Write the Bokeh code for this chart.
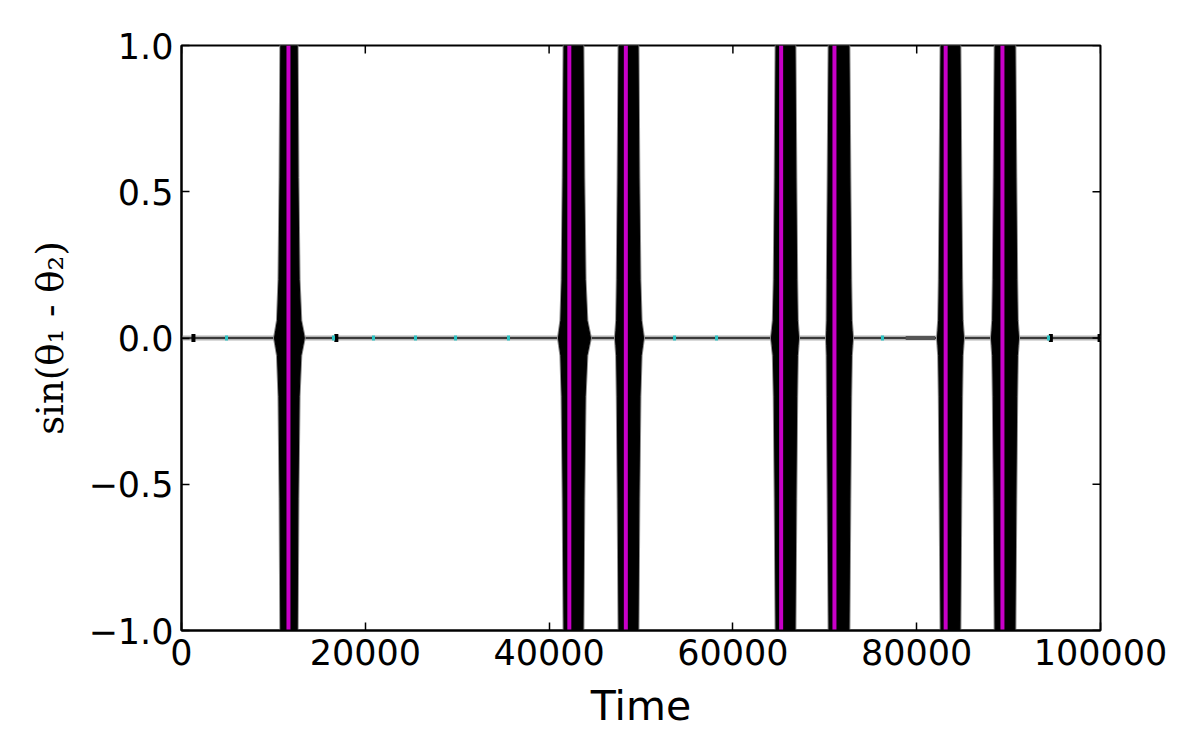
from bokeh.plotting import figure
from bokeh.models import FixedTicker, Range1d, BasicTickFormatter, CustomJSTickFormatter
from bokeh.embed import file_html
from bokeh.resources import INLINE

# ---- data (time units) ----
quiet_t = [0, 100000]
quiet_y = [0.0, 0.0]
dark_t = [78800, 82000]
dark_y = [0.0, 0.0]

burst_bulge_start = [10120, 41020, 47220, 64200, 70190, 82260, 88140]
burst_core_start = [10660, 41460, 47440, 64530, 70290, 82480, 88360]
burst_core_end = [12730, 43850, 49840, 66920, 72800, 84870, 90860]
burst_bulge_end = [13360, 44500, 50270, 67140, 73020, 85090, 91080]
burst_amp = [1.0, 1.0, 1.0, 1.0, 1.0, 1.0, 1.0]

magenta_t = [11640, 42200, 48350, 65250, 71050, 83150, 89330]
cyan_t = [4900, 16540, 20890, 25460, 29820, 35580, 53650, 58220, 76280, 94340]
spike_t = [1300, 16850, 94600, 99900]

x_ticks = [0, 20000, 40000, 60000, 80000, 100000]
y_ticks = [-1.0, -0.5, 0.0, 0.5, 1.0]

# envelope shape of a burst: level (fraction of amplitude), share of the outer
# margin (bulge - core) still covered, and share of the core trimmed per side
env_level = [0.0, 0.025, 0.06, 0.2, 0.55, 1.0]
env_out = [1.0, 0.75, 0.4, 0.1, 0.0, 0.0]
env_in = [0.0, 0.0, 0.0, 0.0, 0.03, 0.07]


def edge_left(bs, cs, ce, fo, fi):
    return cs - fo * (cs - bs) + fi * (ce - cs)


def edge_right(cs, ce, be, fo, fi):
    return ce + fo * (be - ce) - fi * (ce - cs)


def burst_polygon(bs, cs, ce, be, amp):
    xs, ys = [], []
    prof = list(zip(env_level, env_out, env_in))
    for lv, fo, fi in prof:
        xs.append(edge_left(bs, cs, ce, fo, fi)); ys.append(lv * amp)
    for lv, fo, fi in reversed(prof):
        xs.append(edge_right(cs, ce, be, fo, fi)); ys.append(lv * amp)
    for lv, fo, fi in prof[1:]:
        xs.append(edge_right(cs, ce, be, fo, fi)); ys.append(-lv * amp)
    for lv, fo, fi in reversed(prof[1:]):
        xs.append(edge_left(bs, cs, ce, fo, fi)); ys.append(-lv * amp)
    return xs, ys


poly_x, poly_y = [], []
for bs, cs, ce, be, a in zip(burst_bulge_start, burst_core_start, burst_core_end, burst_bulge_end, burst_amp):
    xs, ys = burst_polygon(bs, cs, ce, be, a)
    poly_x.append(xs); poly_y.append(ys)

p = figure(width=1200, height=750, x_range=Range1d(0, 100000), y_range=Range1d(-1, 1),
           output_backend="svg", toolbar_location=None,
           min_border_left=181, min_border_right=100, min_border_top=45, min_border_bottom=120)
p.background_fill_color = "white"
p.border_fill_color = "white"
p.xgrid.visible = False
p.ygrid.visible = False
p.outline_line_color = "black"
p.outline_line_width = 2

# quiet signal along zero
p.line(quiet_t, quiet_y, line_color="#b4b4b4", line_width=5)
p.line(quiet_t, quiet_y, line_color="#3a3a3a", line_width=2)
p.line(dark_t, dark_y, line_color="#555555", line_width=4)

# bursts
p.patches(poly_x, poly_y, fill_color="#8c8c8c", line_color="#8c8c8c", line_width=3)
p.patches(poly_x, poly_y, fill_color="black", line_color="black", line_width=1)

# magenta phase slips
p.segment(x0=magenta_t, y0=[-1] * len(magenta_t), x1=magenta_t, y1=[1] * len(magenta_t),
          line_color="#c800c8", line_width=4)

# small marks along zero
p.rect(x=spike_t, y=[0] * len(spike_t), width=4, height=8, width_units="screen",
       height_units="screen", fill_color="black", line_color=None)
p.rect(x=cyan_t, y=[0] * len(cyan_t), width=3, height=5, width_units="screen",
       height_units="screen", fill_color="#2cc4c4", line_color=None)

# inward ticks on the top and right frame edges (clipped to the frame)
p.rect(x=x_ticks, y=[1.0] * len(x_ticks), width=1.5, height=16, width_units="screen",
       height_units="screen", fill_color="black", line_color=None)
p.rect(x=[100000] * len(y_ticks), y=y_ticks, width=16, height=1.5, width_units="screen",
       height_units="screen", fill_color="black", line_color=None)

font = "DejaVu Sans"
xa = p.xaxis[0]
xa.ticker = FixedTicker(ticks=x_ticks)
xa.formatter = BasicTickFormatter(use_scientific=False)
xa.axis_label = "Time"
xa.axis_label_text_font = font
xa.axis_label_text_font_size = "41px"
xa.axis_label_text_font_style = "normal"
xa.axis_label_text_color = "black"
xa.axis_label_standoff = 14
xa.major_label_text_font = font
xa.major_label_text_font_size = "35px"
xa.major_label_text_color = "black"
xa.major_label_standoff = 8

ya = p.yaxis[0]
ya.ticker = FixedTicker(ticks=y_ticks)
ya.formatter = CustomJSTickFormatter(code="return (tick < 0 ? '\u2212' : '') + Math.abs(tick).toFixed(1);")
ya.axis_label = "sin(θ₁ - θ₂)"
ya.axis_label_text_font = "DejaVu Serif"
ya.axis_label_text_font_size = "37px"
ya.axis_label_text_font_style = "normal"
ya.axis_label_text_color = "black"
ya.axis_label_standoff = 14
ya.major_label_text_font = font
ya.major_label_text_font_size = "35px"
ya.major_label_text_color = "black"
ya.major_label_standoff = 8

for ax in (xa, ya):
    ax.axis_line_color = "black"
    ax.axis_line_width = 2
    ax.major_tick_in = 8
    ax.major_tick_out = 0
    ax.major_tick_line_color = "black"
    ax.major_tick_line_width = 1.5
    ax.minor_tick_line_color = None

open("out.html", "w").write(file_html(p, INLINE))
